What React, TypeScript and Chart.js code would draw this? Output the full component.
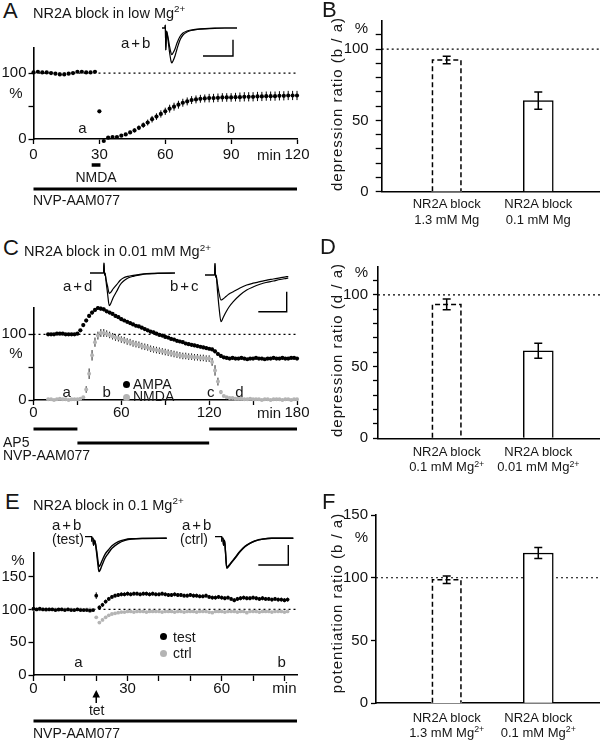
import React, { useEffect, useRef } from 'react';
import { Chart, registerables } from 'chart.js';
Chart.register(...registerables);

const FONT = '"Liberation Sans", Arial, sans-serif';
Chart.defaults.font.family = FONT;
Chart.defaults.font.size = 15;
Chart.defaults.color = '#111';

// ================= Panel A data =================
const aTime = [0, 2, 4, 6, 8, 10, 12, 14, 16, 18, 20, 22, 24, 26, 28, 30, 32,
  34, 36, 38, 40, 42, 44, 46, 48, 50, 52, 54, 56, 58, 60, 62, 64, 66, 68, 70, 72, 74, 76, 78, 80,
  82, 84, 86, 88, 90, 92, 94, 96, 98, 100, 102, 104, 106, 108, 110, 112, 114, 116, 118, 120];
const aValue = [101, 102, 101, 101, 100, 99, 98, 98, 99, 100, 102, 102, 101, 101, 102, 42, -3,
  2, 3, 3, 5, 7, 10, 13, 17, 21, 25, 30, 34, 38, 42, 46, 49, 52, 55, 57, 59,
  60, 61, 61.5, 62, 62, 62.5, 63, 63, 63, 63.5, 63.5, 64, 64, 64, 64.5, 64.5, 65, 65, 65, 65.5,
  65.5, 66, 66, 66];
const aError = [0, 0, 0, 0, 0, 0, 0, 0, 0, 0, 0, 0, 0, 0, 0, 0, 0,
  1, 1, 1, 1.5, 2, 2.5, 3, 3.5, 4, 4.5, 5, 5, 5.5, 5.5, 6, 6, 6, 6, 6, 6,
  6, 6, 6, 6.5, 6.5, 6.5, 6.5, 6.5, 6.5, 6.5, 7, 7, 7, 7, 7, 7, 7, 7, 7, 7, 7, 7, 7, 7];
const aNmdaApplication = [26.5, 30.5];
const aNvpApplication = [0, 120];
const aXTicks = [0, 30, 60, 90, 120];
const aXTickLabels = ['0', '30', '60', '90', '120'];
const aYTicks = [0, 50, 100];
const aYTickLabels = ['0', '', '100'];

// trace inset A (ms, pA-like units)
const trA_t = [7, 10, 10.3, 10.8, 11.5, 13, 14.5, 16, 16.7, 18, 20, 22, 25, 28, 32, 36, 42, 50, 60, 70, 82];
const trA_a = [0, 0, 3, -22, -3, -12, -24, -33, -35, -33, -28, -21, -12, -7, -4, -2.5, -1.5, -0.8, -0.3, 0, 0];
const trA_b = [0, 0, 3, -22, -3, -9, -18, -25, -26.7, -25, -21, -15, -8.5, -5, -3, -2, -1.2, -0.6, -0.2, 0, 0];
const scaleA_t = [48, 78, 78];
const scaleA_v = [-28, -28, -11.7];

// ================= Panel B data =================
const barPositions = [1, 2];
const bValues = [92.3, 63.8];
const bErrors = [2.6, 6];
const bDashed = [true, false];
const barTicks10 = [0, 10, 20, 30, 40, 50, 60, 70, 80, 90, 100, 110];
const barTickLabels10 = ['0', '', '', '', '', '50', '', '', '', '', '100', ''];

// ================= Panel C data =================
const cTime = [10, 12, 14, 16, 18, 20, 22, 24, 26, 28, 30, 32, 34, 36, 38, 40, 42, 44, 46, 48,
  50, 52, 54, 56, 58, 60, 62, 64, 66, 68, 70, 72, 74, 76, 78, 80, 82, 84, 86, 88,
  90, 92, 94, 96, 98, 100, 102, 104, 106, 108, 110, 112, 114, 116, 118, 120, 122, 124, 126, 128,
  130, 132, 134, 136, 138, 140, 142, 144, 146, 148, 150, 152, 154, 156, 158, 160, 162, 164, 166, 168,
  170, 172, 174, 176, 178, 180];
const cAmpa = [100, 100, 100, 101, 101, 101, 100, 100, 100, 100,
  101, 106, 114, 121, 128, 133, 137, 140, 139, 138,
  135, 133, 131, 128, 126, 123, 121, 119, 117, 115,
  113, 112, 110, 108, 106, 104, 103, 101, 99, 98,
  96, 95, 93, 92, 90, 89, 88, 86, 85, 84,
  83, 82, 81, 80, 79, 78, 77, 74, 70, 67,
  65, 64, 63, 64, 63, 63, 64, 63, 62, 63,
  63, 64, 63, 63, 62, 63, 63, 64, 63, 63,
  64, 63, 63, 64, 64, 63];
const cNmda = [1, 1, 0, 1, 2, 1, 1, 0, 1, 1,
  1, 2, 4, 16, 40, 68, 88, 98, 102, 102,
  101, 99, 97, 95, 94, 92, 91, 89, 88, 86,
  85, 84, 82, 81, 80, 78, 77, 76, 75, 74,
  73, 72, 71, 70, 69, 68, 67, 67, 66, 66,
  65, 65, 64, 64, 63, 63, 58, 45, 28, 12,
  6, 4, 3, 3, 2, 2, 2, 1, 1, 2,
  1, 1, 1, 0, 1, 1, 0, 1, 1, 1,
  0, 1, 1, 0, 1, 1];
const cAmpaErr = [1.5, 1.5, 1.5, 1.5, 1.5, 1.5, 1.5, 1.5, 1.5, 1.5,
  1.5, 2, 3, 3, 3, 3, 3, 3, 3, 3,
  2.5, 2.5, 2.5, 2.5, 2.5, 2.5, 2.5, 2.5, 2.5, 2.5,
  2.5, 2.5, 2.5, 2.5, 2.5, 2.5, 2.5, 2.5, 2.5, 2.5,
  2.5, 2.5, 2.5, 2.5, 2.5, 2.5, 2.5, 2.5, 2.5, 2.5,
  2.5, 2.5, 2.5, 2.5, 2.5, 2.5, 2.5, 3, 3, 3,
  2, 2, 2, 2, 2, 2, 2, 2, 2, 2,
  2, 2, 2, 2, 2, 2, 2, 2, 2, 2,
  2, 2, 2, 2, 2, 2];
const cNmdaErr = [1, 1, 1, 1, 1, 1, 1, 1, 1, 1,
  1, 1, 2, 5, 8, 8, 7, 6, 6, 6,
  5, 5, 5, 5, 5, 5, 5, 5, 5, 5,
  5, 5, 5, 5, 5, 5, 5, 5, 5, 5,
  5, 5, 5, 5, 5, 5, 5, 5, 5, 5,
  5, 5, 5, 5, 5, 5, 6, 8, 6, 3,
  1, 1, 1, 1, 1, 1, 1, 1, 1, 1,
  1, 1, 1, 1, 1, 1, 1, 1, 1, 1,
  1, 1, 1, 1, 1, 1];
const cAp5Applications = [[0, 30], [120, 180]];
const cNvpApplication = [30, 120];
const cXTicks = [0, 30, 60, 90, 120, 150, 180];
const cXTickLabels = ['0', '', '60', '', '120', '', '180'];

const trC1_t = [5, 18.5, 19, 19.5, 20, 21, 22.5, 24.3, 26, 28, 31.7, 35, 38.3, 43, 48.3, 55, 61.7, 75, 90];
const trC1_a = [0, 0, 10, -2, 0, -8, -20, -32.7, -30, -25, -18.3, -12, -8.3, -5, -3.3, -2, -1, -0.3, 0];
const trC1_d = [0, 0, 10, -2, 0, -6, -13, -20.3, -19, -16, -11.7, -7.5, -5, -3.3, -2.3, -1.3, -0.7, -0.2, 0];
const trC2_t = [5, 14.5, 15, 15.5, 16, 17.5, 19, 21, 23, 26, 29, 33.3, 40, 46.7, 53, 60, 66, 73.3, 80, 86.7, 88.3];
const trC2_b = [0, 0, 11.7, -2, 0, -16, -32, -46.7, -43, -37, -32, -26.7, -20, -15, -12, -9.3, -7.5, -6, -4.5, -3.3, -3];
const trC2_c = [0, 0, 11.7, -2, 0, -9, -18, -25, -24, -21.5, -19, -16.7, -13, -10, -8.2, -6.7, -5.3, -4, -2.8, -1.7, -1.5];
const scaleC_t = [58.3, 86.7, 86.7];
const scaleC_v = [-36.7, -36.7, -16.7];

// ================= Panel D data =================
const dValues = [93.4, 61.1];
const dErrors = [3.8, 5.2];
const dDashed = [true, false];

// ================= Panel E data =================
const eTime = [0, 1, 2, 3, 4, 5, 6, 7, 8, 9, 10, 11, 12, 13, 14, 15, 16, 17, 18, 19,
  20, 21, 22, 23, 24, 25, 26, 27, 28, 29, 30, 31, 32, 33, 34, 35, 36, 37, 38, 39,
  40, 41, 42, 43, 44, 45, 46, 47, 48, 49, 50, 51, 52, 53, 54, 55, 56, 57, 58, 59,
  60, 61, 62, 63, 64, 65, 66, 67, 68, 69, 70, 71, 72, 73, 74, 75, 76, 77, 78, 79, 80, 81];
const eTest = [101, 100, 101, 100, 100, 100, 100, 99, 100, 100,
  99, 100, 99, 99, 100, 99, 99, 99, 98, 99,
  121, 103, 107, 112, 116, 119, 121, 122, 123, 123,
  124, 123, 124, 124, 123, 124, 124, 123, 124, 123,
  123, 124, 123, 122, 122, 123, 122, 122, 121, 121,
  122, 121, 121, 120, 120, 121, 119, 118, 118, 119,
  118, 117, 118, 116, 114, 116, 117, 118, 117, 117,
  118, 117, 116, 117, 116, 116, 115, 116, 115, 115,
  114, 115];
const eCtrl = [100, 100, 100, 100, 99, 100, 100, 100, 99, 100,
  100, 100, 100, 99, 100, 100, 99, 100, 100, 99,
  88, 80, 84, 88, 91, 93, 94, 95, 96, 96,
  97, 97, 96, 97, 97, 97, 96, 97, 97, 97,
  97, 96, 97, 97, 97, 96, 97, 97, 96, 97,
  97, 97, 96, 97, 97, 97, 96, 95, 97, 97,
  97, 96, 97, 97, 97, 96, 97, 97, 95, 97,
  97, 97, 96, 97, 97, 97, 96, 97, 97, 97,
  96, 97];
const eTestErr = [1, 1, 1, 1, 1, 1, 1, 1, 1, 1, 1, 1, 1, 1, 1, 1, 1, 1, 1, 1,
  5, 3, 3, 3, 3, 3, 3, 3, 3, 3, 3, 3, 3, 3, 3, 3, 3, 3, 3, 3,
  3, 3, 3, 3, 3, 3, 3, 3, 3, 3, 3, 3, 3, 3, 3, 3, 3, 3, 3, 3,
  3, 3, 3, 3, 3, 3, 3, 3, 3, 3, 3, 3, 3, 3, 3, 3, 3, 3, 3, 3, 3, 3];
const eCtrlErr = [1.5, 1.5, 1.5, 1.5, 1.5, 1.5, 1.5, 1.5, 1.5, 1.5, 1.5, 1.5, 1.5, 1.5, 1.5, 1.5, 1.5, 1.5, 1.5, 1.5,
  1.5, 2, 2, 2, 1.5, 1.5, 1.5, 1.5, 1.5, 1.5, 1.5, 1.5, 1.5, 1.5, 1.5, 1.5, 1.5, 1.5, 1.5, 1.5,
  1.5, 1.5, 1.5, 1.5, 1.5, 1.5, 1.5, 1.5, 1.5, 1.5, 1.5, 1.5, 1.5, 1.5, 1.5, 1.5, 1.5, 1.5, 1.5, 1.5,
  1.5, 1.5, 1.5, 1.5, 1.5, 1.5, 1.5, 1.5, 1.5, 1.5, 1.5, 1.5, 1.5, 1.5, 1.5, 1.5, 1.5, 1.5, 1.5, 1.5, 1.5, 1.5];
const eTetanus = 20;
const eNvpApplication = [0, 84];
const eXTicks = [0, 10, 20, 30, 40, 50, 60, 70, 80];
const eXTickLabels = ['0', '', '', '30', '', '', '60', '', 'min'];
const eYTicks = [0, 50, 100, 150];
const eYTickLabels = ['0', '50', '100', '150'];

const trE1_lead_t = [0, 6.7, 6.7];
const trE1_lead_v = [1.6, 1.6, -3.4];
const trE1_t = [7, 8, 8.5, 9.5, 10.5, 12, 13, 14, 15, 17, 20, 23.3, 27, 33.3, 40, 46.7, 60, 81.7];
const trE1_a = [0, 0, -7, -2, -6, -18, -27, -33.3, -32, -27, -20, -15, -10, -5, -2, -0.7, -0.2, 0];
const trE1_b = [0, 0, -7, -2, -5, -15, -23, -28.3, -27, -22.5, -16, -11.7, -7.5, -3.3, -1.3, -0.5, -0.1, 0];
const trE2_lead_t = [2, 8.7, 8.7];
const trE2_lead_v = [1.6, 1.6, -3.4];
const trE2_t = [9, 10, 10.5, 11.5, 12.5, 13.7, 15, 18, 22, 27, 32, 37, 42, 50, 58.7, 80.3];
const trE2_a = [0, 0, -7, -2, -14, -30, -29, -25, -20, -13.5, -8.3, -5, -2.7, -0.8, 0, 0];
const trE2_b = [0, 0, -7, -2, -13.5, -29, -28, -24.5, -19.5, -13, -8, -4.8, -2.5, -0.7, 0, 0];
const scaleE_t = [45.3, 75.3, 75.3];
const scaleE_v = [-26.7, -26.7, -6.7];

// ================= Panel F data =================
const fValues = [98.4, 119.7];
const fErrors = [3, 4.4];
const fDashed = [true, false];
const fTicks = [0, 50, 100, 150];
const fTickLabels = ['0', '50', '100', '150'];

const REF_LEVEL = 100;

// ================= helpers =================
type Rect = { left: number; top: number; width: number; height: number };
type Area = { l: number; t: number; r: number; b: number };

function frameLayout(c: Rect, a: Area) {
  return {
    padding: { left: 0, top: a.t - c.top, right: c.left + c.width - a.r, bottom: 0 },
    yW: a.l - c.left,
    xH: c.top + c.height - a.b,
  };
}

function drawErr(chart: any, index: number, top: boolean) {
  const ds = chart.data.datasets[index];
  if (!ds.errors || !!ds.errorsOnTop !== top) return;
  const meta = chart.getDatasetMeta(index);
  const ys = chart.scales[meta.yAxisID];
  const ctx = chart.ctx;
  ctx.save();
  ctx.strokeStyle = ds.errorColor || '#000';
  ctx.lineWidth = ds.errorWidth || 1;
  ctx.setLineDash([]);
  meta.data.forEach((el: any, j: number) => {
    const e = ds.errors[j];
    if (!e) return;
    const raw = ds.data[j];
    const v = typeof raw === 'number' ? raw : raw.y;
    const y1 = ys.getPixelForValue(v - e);
    const y2 = ys.getPixelForValue(v + e);
    ctx.beginPath();
    ctx.moveTo(el.x, y1);
    ctx.lineTo(el.x, y2);
    if (ds.errorCap) {
      const c = ds.errorCap;
      ctx.moveTo(el.x - c, y1); ctx.lineTo(el.x + c, y1);
      ctx.moveTo(el.x - c, y2); ctx.lineTo(el.x + c, y2);
    }
    ctx.stroke();
  });
  ctx.restore();
}

const errorBars = {
  id: 'errorBars',
  beforeDatasetDraw(chart: any, args: any) { drawErr(chart, args.index, false); },
  afterDatasetDraw(chart: any, args: any) { drawErr(chart, args.index, true); },
};

const dashedBars = {
  id: 'dashedBars',
  afterDatasetsDraw(chart: any) {
    chart.data.datasets.forEach((ds: any, i: number) => {
      if (!ds.dashed) return;
      const meta = chart.getDatasetMeta(i);
      const ctx = chart.ctx;
      ctx.save();
      ctx.strokeStyle = '#000';
      ctx.lineWidth = 1.5;
      ctx.setLineDash([5, 3]);
      meta.data.forEach((el: any, j: number) => {
        if (!ds.dashed[j]) return;
        const l = el.x - el.width / 2 + 0.75;
        const r = el.x + el.width / 2 - 0.75;
        ctx.beginPath();
        ctx.moveTo(l, el.base);
        ctx.lineTo(l, el.y);
        ctx.lineTo(r, el.y);
        ctx.lineTo(r, el.base);
        ctx.stroke();
      });
      ctx.restore();
    });
  },
};

function annotPlugin(bars: { from: number; to: number; dy: number; w: number }[], arrow?: { at: number; tip: number; tail: number }) {
  return {
    id: 'annot',
    afterDraw(chart: any) {
      const ctx = chart.ctx;
      const xs = chart.scales.x;
      const base = chart.chartArea.bottom;
      ctx.save();
      ctx.strokeStyle = '#000';
      ctx.setLineDash([]);
      bars.forEach((b) => {
        ctx.lineWidth = b.w;
        ctx.beginPath();
        ctx.moveTo(xs.getPixelForValue(b.from), base + b.dy);
        ctx.lineTo(xs.getPixelForValue(b.to), base + b.dy);
        ctx.stroke();
      });
      if (arrow) {
        const x = xs.getPixelForValue(arrow.at);
        ctx.lineWidth = 1.5;
        ctx.beginPath();
        ctx.moveTo(x, base + arrow.tip + 5);
        ctx.lineTo(x, base + arrow.tail);
        ctx.stroke();
        ctx.fillStyle = '#000';
        ctx.beginPath();
        ctx.moveTo(x, base + arrow.tip);
        ctx.lineTo(x - 3.8, base + arrow.tip + 7.5);
        ctx.lineTo(x + 3.8, base + arrow.tip + 7.5);
        ctx.closePath();
        ctx.fill();
      }
      ctx.restore();
    },
  };
}

function pts(xs: number[], ys: number[]) {
  return xs.map((x, i) => ({ x, y: ys[i] }));
}

function pointSet(xs: number[], ys: number[], errs: number[], color: string, errColor: string, radius: number, order: number) {
  return {
    data: pts(xs, ys),
    showLine: false,
    pointRadius: radius,
    pointBackgroundColor: color,
    pointBorderWidth: 0,
    pointHoverRadius: radius,
    errors: errs,
    errorColor: errColor,
    errorWidth: 1,
    clip: false,
    order,
  };
}

function refLine(xMin: number, xMax: number) {
  return {
    type: 'line',
    data: [{ x: xMin, y: REF_LEVEL }, { x: xMax, y: REF_LEVEL }],
    showLine: true,
    borderColor: '#000',
    borderWidth: 1.2,
    borderDash: [2, 3],
    pointRadius: 0,
    order: 10,
    clip: false,
  };
}

function timeConfig(c: Rect, a: Area, p: any) {
  const f = frameLayout(c, a);
  return {
    type: 'scatter',
    data: { datasets: [...p.datasets, refLine(p.xMin, p.xMax)] },
    options: {
      responsive: false, animation: false, devicePixelRatio: 1, events: [],
      layout: { padding: f.padding },
      plugins: { legend: { display: false }, tooltip: { enabled: false } },
      scales: {
        x: {
          type: 'linear', min: p.xMin, max: p.xMax,
          afterBuildTicks: (s: any) => { s.ticks = p.xTicks.map((v: number) => ({ value: v })); },
          afterFit: (s: any) => { s.height = f.xH; s.paddingLeft = 0; s.paddingRight = 0; },
          ticks: {
            autoSkip: false, maxRotation: 0, minRotation: 0, padding: p.xPad, color: '#111', font: { size: 15 },
            callback: (v: number) => { const i = p.xTicks.indexOf(v); return i >= 0 ? p.xLabels[i] : ''; },
          },
          grid: { display: true, drawOnChartArea: false, drawTicks: true, tickLength: p.xTickLen, tickColor: '#000', tickWidth: 1.3, color: '#000' },
          border: { display: true, color: '#000', width: 1.6 },
        },
        y: {
          type: 'linear', min: p.yMin, max: p.yMax,
          afterBuildTicks: (s: any) => { s.ticks = p.yTicks.map((v: number) => ({ value: v })); },
          afterFit: (s: any) => { s.width = f.yW; s.paddingTop = 0; s.paddingBottom = 0; },
          ticks: {
            autoSkip: false, padding: 2, color: '#111', font: { size: 15 },
            callback: (v: number) => { const i = p.yTicks.indexOf(v); return i >= 0 ? p.yLabels[i] : ''; },
          },
          grid: { display: true, drawOnChartArea: false, drawTicks: true, tickLength: 5, tickColor: '#000', tickWidth: 1.3, color: '#000' },
          border: { display: true, color: '#000', width: 1.6 },
        },
      },
    },
    plugins: [errorBars, ...(p.plugins || [])],
  };
}

function barConfig(c: Rect, a: Area, p: any) {
  const f = frameLayout(c, a);
  return {
    type: 'bar',
    data: {
      datasets: [
        {
          type: 'bar',
          data: pts(barPositions, p.values),
          backgroundColor: '#fff',
          borderColor: '#000',
          borderWidth: p.dashed.map((d: boolean) => (d ? 0 : 1.5)),
          borderSkipped: 'bottom',
          barThickness: 30,
          errors: p.errors,
          errorsOnTop: true,
          errorCap: 4,
          errorWidth: 1.5,
          dashed: p.dashed,
          order: 1,
        },
        refLine(p.xMin, p.xMax),
      ],
    },
    options: {
      responsive: false, animation: false, devicePixelRatio: 1, events: [],
      layout: { padding: f.padding },
      plugins: { legend: { display: false }, tooltip: { enabled: false } },
      scales: {
        x: {
          type: 'linear', min: p.xMin, max: p.xMax, offset: false,
          afterFit: (s: any) => { s.height = f.xH; s.paddingLeft = 0; s.paddingRight = 0; },
          ticks: { display: false },
          grid: { display: true, drawOnChartArea: false, drawTicks: false, offset: false },
          border: { display: true, color: '#000', width: 1.6 },
        },
        y: {
          type: 'linear', min: 0, max: p.yMax,
          afterBuildTicks: (s: any) => { s.ticks = p.yTicks.map((v: number) => ({ value: v })); },
          afterFit: (s: any) => { s.width = f.yW; s.paddingTop = 0; s.paddingBottom = 0; },
          ticks: {
            autoSkip: false, padding: p.tickPad, color: '#111', font: { size: 15 },
            callback: (v: number) => { const i = p.yTicks.indexOf(v); return i >= 0 ? p.yLabels[i] : ''; },
          },
          grid: { display: true, drawOnChartArea: false, drawTicks: true, tickLength: p.tickLen, tickColor: '#000', tickWidth: 1.3, color: '#000' },
          border: { display: true, color: '#000', width: 1.6 },
        },
      },
    },
    plugins: [errorBars, dashedBars],
  };
}

function traceConfig(xMax: number, yMin: number, yMax: number, lines: { t: number[]; v: number[]; w?: number; smooth?: boolean }[]) {
  return {
    type: 'scatter',
    data: {
      datasets: lines.map((l) => ({
        data: pts(l.t, l.v),
        showLine: true,
        borderColor: '#000',
        borderWidth: l.w ?? 1.2,
        pointRadius: 0,
        tension: 0,
        cubicInterpolationMode: l.smooth ? 'monotone' : 'default',
      })),
    },
    options: {
      responsive: false, animation: false, devicePixelRatio: 1, events: [],
      layout: { padding: 0 },
      plugins: { legend: { display: false }, tooltip: { enabled: false } },
      scales: {
        x: { type: 'linear', display: false, min: 0, max: xMax },
        y: { type: 'linear', display: false, min: yMin, max: yMax },
      },
    },
  };
}

function ChartBox({ rect, config }: { rect: Rect; config: () => any }) {
  const ref = useRef<HTMLCanvasElement | null>(null);
  useEffect(() => {
    const ch = new Chart(ref.current as HTMLCanvasElement, config());
    return () => ch.destroy();
  }, []);
  return (
    <canvas
      ref={ref}
      width={rect.width}
      height={rect.height}
      style={{ position: 'absolute', left: rect.left, top: rect.top, width: rect.width, height: rect.height }}
    />
  );
}

function Txt({ x, y, s = 14, a = 'left', ls = 0, children }: any) {
  const tx = a === 'center' ? '-50%' : a === 'right' ? '-100%' : '0';
  return (
    <div
      style={{
        position: 'absolute', left: x, top: y - 0.85 * s, fontSize: s, lineHeight: `${s}px`,
        fontFamily: FONT, color: '#161616', whiteSpace: 'nowrap', transform: `translateX(${tx})`,
        letterSpacing: ls,
      }}
    >
      {children}
    </div>
  );
}

function Sup({ children }: any) {
  return <span style={{ fontSize: '0.68em', position: 'relative', top: '-0.55em' }}>{children}</span>;
}

function VTxt({ cx, cy, s = 15, ls = 1, children }: any) {
  return (
    <div
      style={{
        position: 'absolute', left: cx, top: cy, fontSize: s, lineHeight: `${s}px`, fontFamily: FONT,
        color: '#161616', whiteSpace: 'nowrap', letterSpacing: ls,
        transform: 'translate(-50%, -50%) rotate(-90deg)',
      }}
    >
      {children}
    </div>
  );
}

function Dot({ x, y, c }: any) {
  return <div style={{ position: 'absolute', left: x - 3.5, top: y - 3.5, width: 7, height: 7, borderRadius: '50%', background: c }} />;
}

// ================= rects =================
const A_main: Rect = { left: 0, top: 40, width: 320, height: 175 };
const A_area: Area = { l: 33.5, t: 48, r: 297, b: 139 };
const A_trace: Rect = { left: 155, top: 18, width: 85, height: 50 };

const B_rect: Rect = { left: 340, top: 10, width: 260, height: 225 };
const B_area: Area = { l: 381.7, t: 20.5, r: 600, b: 191.7 };

const C_main: Rect = { left: 0, top: 300, width: 320, height: 170 };
const C_area: Area = { l: 33.5, t: 308, r: 297, b: 400 };
const C_tr1: Rect = { left: 85, top: 258, width: 95, height: 68 };
const C_tr2: Rect = { left: 200, top: 258, width: 95, height: 68 };

const D_rect: Rect = { left: 340, top: 255, width: 260, height: 220 };
const D_area: Area = { l: 378, t: 266.3, r: 600, b: 438.3 };

const E_main: Rect = { left: 0, top: 545, width: 320, height: 196 };
const E_area: Area = { l: 33.5, t: 553, r: 297, b: 675 };
const E_tr1: Rect = { left: 85, top: 528, width: 85, height: 50 };
const E_tr2: Rect = { left: 213, top: 528, width: 85, height: 50 };

const F_rect: Rect = { left: 340, top: 505, width: 260, height: 236 };
const F_area: Area = { l: 376, t: 515, r: 600, b: 703.3 };

const GRAY = '#b4b4b4';

export default function App() {
  useEffect(() => { document.body.style.margin = '0'; }, []);
  return (
    <div style={{ position: 'absolute', left: 0, top: 0, width: 600, height: 741, overflow: 'hidden', background: '#fff' }}>
      {/* ---------- Panel A ---------- */}
      <ChartBox rect={A_main} config={() => timeConfig(A_main, A_area, {
        xMin: 0, xMax: 120, yMin: 0, yMax: 138, xTicks: aXTicks, xLabels: aXTickLabels,
        yTicks: aYTicks, yLabels: aYTickLabels, xTickLen: 5, xPad: 2,
        datasets: [pointSet(aTime, aValue, aError, '#000', '#000', 2.1, 1)],
        plugins: [annotPlugin([
          { from: aNmdaApplication[0], to: aNmdaApplication[1], dy: 26, w: 3.5 },
          { from: aNvpApplication[0], to: aNvpApplication[1], dy: 50, w: 3 },
        ])],
      })} />
      <ChartBox rect={A_trace} config={() => traceConfig(85, -40, 10, [
        { t: trA_t, v: trA_a, smooth: true },
        { t: trA_t, v: trA_b, smooth: true },
        { t: scaleA_t, v: scaleA_v, w: 1.4 },
      ])} />
      <Txt x={3} y={19} s={22}>A</Txt>
      <Txt x={33} y={18} s={14.5}>NR2A block in low Mg<Sup>2+</Sup></Txt>
      <Txt x={121} y={48} s={15} ls={2}>a+b</Txt>
      <Txt x={16} y={98} s={15} a="center">%</Txt>
      <Txt x={82.5} y={133} s={15} a="center">a</Txt>
      <Txt x={231} y={133} s={15} a="center">b</Txt>
      <Txt x={257} y={160} s={15}>min</Txt>
      <Txt x={96} y={182} s={14} a="center">NMDA</Txt>
      <Txt x={33} y={205} s={14}>NVP-AAM077</Txt>

      {/* ---------- Panel B ---------- */}
      <ChartBox rect={B_rect} config={() => barConfig(B_rect, B_area, {
        values: bValues, errors: bErrors, dashed: bDashed, yMax: 120, yTicks: barTicks10, yLabels: barTickLabels10,
        tickLen: 6, tickPad: 7, xMin: 0.29, xMax: 2.674,
      })} />
      <Txt x={322} y={18} s={22}>B</Txt>
      <Txt x={368} y={33} s={15} a="right">%</Txt>
      <VTxt cx={336} cy={104}>depression ratio (b / a)</VTxt>
      <Txt x={446.7} y={208.5} s={13} a="center">NR2A block</Txt>
      <Txt x={446.7} y={224} s={13} a="center">1.3 mM Mg</Txt>
      <Txt x={538.3} y={208.5} s={13} a="center">NR2A block</Txt>
      <Txt x={538.3} y={224} s={13} a="center">0.1 mM Mg</Txt>

      {/* ---------- Panel C ---------- */}
      <ChartBox rect={C_main} config={() => timeConfig(C_main, C_area, {
        xMin: 0, xMax: 180, yMin: 0, yMax: 140, xTicks: cXTicks, xLabels: cXTickLabels,
        yTicks: aYTicks, yLabels: aYTickLabels, xTickLen: 5, xPad: -1,
        datasets: [
          pointSet(cTime, cAmpa, cAmpaErr, '#000', '#000', 2.1, 1),
          pointSet(cTime, cNmda, cNmdaErr, GRAY, '#222', 2, 2),
        ],
        plugins: [annotPlugin([
          { from: cAp5Applications[0][0], to: cAp5Applications[0][1], dy: 29, w: 3 },
          { from: cAp5Applications[1][0], to: cAp5Applications[1][1], dy: 29, w: 3 },
          { from: cNvpApplication[0], to: cNvpApplication[1], dy: 43, w: 3 },
        ])],
      })} />
      <ChartBox rect={C_tr1} config={() => traceConfig(95, -53, 15, [
        { t: trC1_t, v: trC1_a, smooth: true },
        { t: trC1_t, v: trC1_d, smooth: true },
      ])} />
      <ChartBox rect={C_tr2} config={() => traceConfig(95, -51, 17, [
        { t: trC2_t, v: trC2_b, smooth: true },
        { t: trC2_t, v: trC2_c, smooth: true },
        { t: scaleC_t, v: scaleC_v, w: 1.4 },
      ])} />
      <Txt x={3} y={255.5} s={22}>C</Txt>
      <Txt x={24} y={256.5} s={14.5}>NR2A block in 0.01 mM Mg<Sup>2+</Sup></Txt>
      <Txt x={63} y={291} s={15} ls={2}>a+d</Txt>
      <Txt x={170} y={291} s={15} ls={2}>b+c</Txt>
      <Txt x={16} y={358} s={15} a="center">%</Txt>
      <Dot x={126.7} y={384} c="#000" />
      <Txt x={133} y={388.5} s={14}>AMPA</Txt>
      <Dot x={126.7} y={397} c={GRAY} />
      <Txt x={133} y={401} s={14}>NMDA</Txt>
      <Txt x={66.7} y={396.7} s={15} a="center">a</Txt>
      <Txt x={106.7} y={396.7} s={15} a="center">b</Txt>
      <Txt x={210.7} y={396.7} s={15} a="center">c</Txt>
      <Txt x={239.3} y={396.7} s={15} a="center">d</Txt>
      <Txt x={257} y={418} s={15}>min</Txt>
      <Txt x={3} y={447} s={14}>AP5</Txt>
      <Txt x={3} y={460} s={14}>NVP-AAM077</Txt>

      {/* ---------- Panel D ---------- */}
      <ChartBox rect={D_rect} config={() => barConfig(D_rect, D_area, {
        values: dValues, errors: dErrors, dashed: dDashed, yMax: 120, yTicks: barTicks10, yLabels: barTickLabels10,
        tickLen: 5, tickPad: 5, xMin: 0.25, xMax: 2.674,
      })} />
      <Txt x={320} y={255} s={22}>D</Txt>
      <Txt x={368} y={277} s={15} a="right">%</Txt>
      <VTxt cx={336} cy={350}>depression ratio (d / a)</VTxt>
      <Txt x={446.7} y={456} s={13} a="center">NR2A block</Txt>
      <Txt x={446.7} y={471.5} s={13} a="center">0.1 mM Mg<Sup>2+</Sup></Txt>
      <Txt x={538.3} y={456} s={13} a="center">NR2A block</Txt>
      <Txt x={538.3} y={471.5} s={13} a="center">0.01 mM Mg<Sup>2+</Sup></Txt>

      {/* ---------- Panel E ---------- */}
      <ChartBox rect={E_main} config={() => timeConfig(E_main, E_area, {
        xMin: 0, xMax: 84, yMin: 0, yMax: 186, xTicks: eXTicks, xLabels: eXTickLabels,
        yTicks: eYTicks, yLabels: eYTickLabels, xTickLen: 6, xPad: -1,
        datasets: [
          pointSet(eTime, eTest, eTestErr, '#000', '#000', 1.9, 1),
          pointSet(eTime, eCtrl, eCtrlErr, GRAY, GRAY, 1.9, 2),
        ],
        plugins: [annotPlugin([
          { from: eNvpApplication[0], to: eNvpApplication[1], dy: 46, w: 3 },
        ], { at: eTetanus, tip: 15, tail: 28 })],
      })} />
      <ChartBox rect={E_tr1} config={() => traceConfig(85, -39.7, 10.3, [
        { t: trE1_lead_t, v: trE1_lead_v, w: 1.3 },
        { t: trE1_t, v: trE1_a, smooth: true, w: 1.4 },
        { t: trE1_t, v: trE1_b, smooth: true, w: 1.4 },
      ])} />
      <ChartBox rect={E_tr2} config={() => traceConfig(85, -39.7, 10.3, [
        { t: trE2_lead_t, v: trE2_lead_v, w: 1.3 },
        { t: trE2_t, v: trE2_a, smooth: true, w: 1.4 },
        { t: trE2_t, v: trE2_b, smooth: true, w: 1.4 },
        { t: scaleE_t, v: scaleE_v, w: 1.4 },
      ])} />
      <Txt x={5} y={510} s={22}>E</Txt>
      <Txt x={33} y={510} s={14.5}>NR2A block in 0.1 Mg<Sup>2+</Sup></Txt>
      <Txt x={52} y={530} s={15} ls={2}>a+b</Txt>
      <Txt x={52} y={544} s={14}>(test)</Txt>
      <Txt x={182} y={530} s={15} ls={2}>a+b</Txt>
      <Txt x={180} y={544} s={14}>(ctrl)</Txt>
      <Txt x={18} y={565} s={15} a="center">%</Txt>
      <Dot x={163.3} y={636} c="#000" />
      <Txt x={173} y={641.7} s={14}>test</Txt>
      <Dot x={163.3} y={653} c={GRAY} />
      <Txt x={173} y={658.3} s={14}>ctrl</Txt>
      <Txt x={78.3} y={666.7} s={15} a="center">a</Txt>
      <Txt x={281.7} y={666.7} s={15} a="center">b</Txt>
      <Txt x={96.7} y={715} s={14} a="center">tet</Txt>
      <Txt x={33} y={738} s={14}>NVP-AAM077</Txt>

      {/* ---------- Panel F ---------- */}
      <ChartBox rect={F_rect} config={() => barConfig(F_rect, F_area, {
        values: fValues, errors: fErrors, dashed: fDashed, yMax: 150, yTicks: fTicks, yLabels: fTickLabels,
        tickLen: 5, tickPad: 3, xMin: 0.228, xMax: 2.674,
      })} />
      <Txt x={322} y={510} s={22}>F</Txt>
      <Txt x={368} y={542} s={15} a="right">%</Txt>
      <VTxt cx={336} cy={603}>potentiation ratio (b / a)</VTxt>
      <Txt x={446.7} y={722.3} s={13} a="center">NR2A block</Txt>
      <Txt x={446.7} y={736.7} s={13} a="center">1.3 mM Mg<Sup>2+</Sup></Txt>
      <Txt x={538.3} y={722.3} s={13} a="center">NR2A block</Txt>
      <Txt x={538.3} y={736.7} s={13} a="center">0.1 mM Mg<Sup>2+</Sup></Txt>
    </div>
  );
}
